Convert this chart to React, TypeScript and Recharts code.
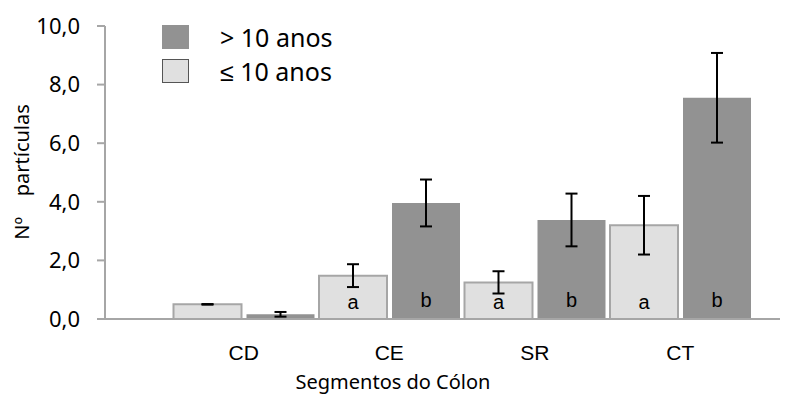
import { BarChart, Bar, XAxis, YAxis, ErrorBar, LabelList } from "recharts";

// segmentos do cólon
const categories = ["CD", "CE", "SR", "CT"];

// ≤ 10 anos
const youngMeans = [0.5, 1.48, 1.25, 3.2];
const youngErr = [0.01, 0.39, 0.38, 1.0];
const youngLetters = ["", "a", "a", "a"];

// > 10 anos
const oldMeans = [0.16, 3.96, 3.38, 7.55];
const oldErr = [0.08, 0.8, 0.9, 1.53];
const oldLetters = ["", "b", "b", "b"];

const yTicks = [0, 2, 4, 6, 8, 10];

const data = categories.map((c, i) => ({
  seg: c,
  young: youngMeans[i],
  youngErr: youngErr[i],
  youngSig: youngLetters[i],
  old: oldMeans[i],
  oldErr: oldErr[i],
  oldSig: oldLetters[i],
}));

const LIGHT = "#e0e0e0";
const DARK = "#929292";
const AXIS = "#a6a6a6";
const font = "'Noto Sans', sans-serif";

function LegendBox() {
  const rows = [
    { label: "> 10 anos", fill: DARK, border: DARK },
    { label: "≤ 10 anos", fill: LIGHT, border: "#555" },
  ];
  return (
    <div
      style={{
        position: "absolute",
        left: 162,
        top: 20,
        fontFamily: font,
        fontSize: 25,
        color: "#000",
      }}
    >
      {rows.map((r) => (
        <div key={r.label} style={{ display: "flex", alignItems: "center", height: 34 }}>
          <span
            style={{
              width: 25,
              height: 22,
              background: r.fill,
              border: `1px solid ${r.border}`,
              marginRight: 31,
            }}
          />
          <span>{r.label}</span>
        </div>
      ))}
    </div>
  );
}

const YTitle = () => (
  <text
    x={24}
    y={172}
    transform="rotate(-90 24 172)"
    textAnchor="middle"
    dominantBaseline="middle"
    fontSize={20}
    fontFamily={font}
    fill="#000"
    style={{ whiteSpace: "pre" }}
  >
    {"Nº    partículas"}
  </text>
);

const XTitle = () => (
  <text x={393} y={389} textAnchor="middle" fontSize={20} fontFamily={font} fill="#000">
    Segmentos do Cólon
  </text>
);

export default function App() {
  return (
    <div style={{ position: "relative", width: 807, height: 398 }}>
      <style>{"body{margin:0}"}</style>
      <BarChart
        width={807}
        height={398}
        data={data}
        margin={{ top: 26, right: 27, left: 0, bottom: 0 }}
        barCategoryGap={2.5}
        barGap={5}
      >
        <XAxis
          dataKey="seg"
          height={79}
          padding={{ left: 66, right: 27 }}
          stroke={AXIS}
          strokeWidth={2}
          tickLine={false}
          tickMargin={20}
          tick={{ fill: "#000", fontSize: 21, fontFamily: "'Liberation Sans', Arial" }}
          label={<XTitle />}
        />
        <YAxis
          width={105}
          domain={[0, 10]}
          ticks={yTicks}
          interval={0}
          stroke={AXIS}
          strokeWidth={2}
          tickSize={8}
          tickMargin={17}
          tickFormatter={(v: number) => v.toFixed(1).replace(".", ",")}
          tick={{ fill: "#000", fontSize: 22, fontFamily: font }}
          label={<YTitle />}
        />
        <Bar dataKey="young" fill={LIGHT} stroke={AXIS} strokeWidth={2} isAnimationActive={false}>
          <ErrorBar dataKey="youngErr" width={6} stroke="#000" strokeWidth={2} direction="y" />
          <LabelList
            dataKey="youngSig"
            position="insideBottom"
            offset={10}
            fill="#000"
            fontSize={20}
            fontFamily="'Liberation Sans', Arial"
          />
        </Bar>
        <Bar dataKey="old" fill={DARK} isAnimationActive={false}>
          <ErrorBar dataKey="oldErr" width={6} stroke="#000" strokeWidth={2} direction="y" />
          <LabelList
            dataKey="oldSig"
            position="insideBottom"
            offset={12}
            fill="#000"
            fontSize={20}
            fontFamily="'Liberation Sans', Arial"
          />
        </Bar>
      </BarChart>
      <LegendBox />
    </div>
  );
}
